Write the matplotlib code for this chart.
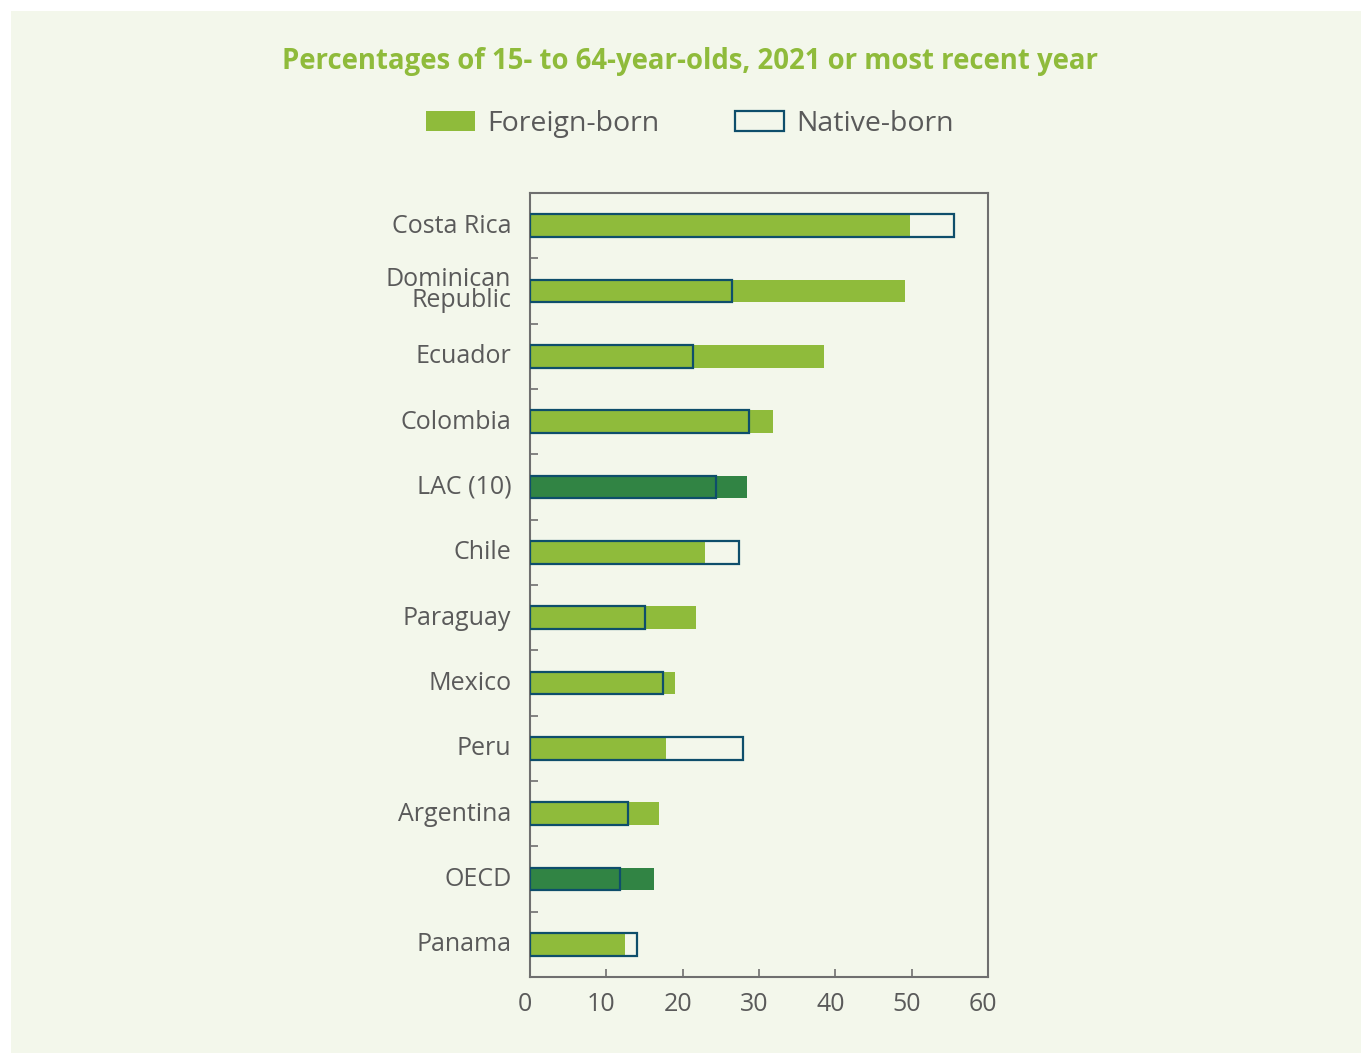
import matplotlib
matplotlib.use("Agg")
import matplotlib.pyplot as plt
import matplotlib.transforms as mtransforms
from matplotlib.patches import Rectangle, Patch

plt.rcParams['font.family'] = ['Open Sans', 'DejaVu Sans']

countries = ["Costa Rica", "Dominican\nRepublic", "Ecuador", "Colombia", "LAC (10)",
             "Chile", "Paraguay", "Mexico", "Peru", "Argentina", "OECD", "Panama"]
foreign_born = [49.8, 49.1, 38.5, 31.8, 28.4, 22.9, 21.7, 19.0, 17.8, 16.9, 16.2, 12.5]
native_born = [55.6, 26.5, 21.4, 28.7, 24.4, 27.4, 15.1, 17.4, 27.9, 12.8, 11.8, 14.0]
aggregates = ["LAC (10)", "OECD"]
x_ticks = [0, 10, 20, 30, 40, 50, 60]

title = "Percentages of 15- to 64-year-olds, 2021 or most recent year"

BG = "#f3f7eb"
LIGHT_GREEN = "#8fbb3b"
DARK_GREEN = "#318444"
NAVY = "#0e4e6b"
TEXT = "#5a5a5a"
SPINE = "#6f6f6f"

W, H = 1361, 1053
fig = plt.figure(figsize=(W / 100, H / 100), dpi=100, facecolor="white")
fig.patches.append(Rectangle((11 / W, 0), 1, 1 - 11 / H, transform=fig.transFigure,
                             facecolor=BG, edgecolor="none", zorder=-10))

ax = fig.add_axes([530 / W, 1 - 977 / H, (988 - 530) / W, (977 - 193) / H])
ax.set_facecolor(BG)

y = list(range(len(countries)))
bar_h = 0.35
fcolors = [DARK_GREEN if c in aggregates else LIGHT_GREEN for c in countries]
ax.barh(y, foreign_born, height=bar_h, color=fcolors, edgecolor="none", zorder=2)
ax.barh(y, native_born, height=bar_h, facecolor="none", edgecolor=NAVY, linewidth=1.6, zorder=3)

ax.set_xlim(0, 60)
ax.set_ylim(len(countries) - 0.5, -0.5)
ax.set_xticks(x_ticks)
ax.set_xticklabels([str(t) for t in x_ticks])

ax.set_yticks([i + 0.5 for i in range(len(countries) - 1)], minor=False)
ax.set_yticklabels([])
ax.set_yticks(y, minor=True)
ax.set_yticklabels(countries, minor=True, fontsize=18, color=TEXT, ha="right",
                   linespacing=0.8)
ax.tick_params(axis="y", which="minor", length=0, pad=13.5)
ax.tick_params(axis="y", which="major", direction="in", length=6, color=SPINE, width=1.2)
ax.tick_params(axis="x", direction="in", length=6, color=SPINE, width=1.2,
               labelsize=18, labelcolor=TEXT, pad=11)

# nudge the x tick labels slightly left and the category labels slightly up
xshift = mtransforms.ScaledTranslation(-5 / 100, 0, fig.dpi_scale_trans)
for lbl in ax.get_xticklabels():
    lbl.set_transform(lbl.get_transform() + xshift)
yshift = mtransforms.ScaledTranslation(0, 2.5 / 100, fig.dpi_scale_trans)
for lbl in ax.get_yticklabels(minor=True):
    lbl.set_transform(lbl.get_transform() + yshift)

for s in ax.spines.values():
    s.set_color(SPINE)
    s.set_linewidth(1.5)

fig.text(690 / W, 1 - 61 / H, title, ha="center", va="center", fontsize=19.8,
         fontweight="bold", color=LIGHT_GREEN)

handles = [Patch(facecolor=LIGHT_GREEN, edgecolor="none", label="Foreign-born"),
           Patch(facecolor=BG, edgecolor=NAVY, linewidth=1.6, label="Native-born")]
fig.legend(handles=handles, loc="center", bbox_to_anchor=(690 / W, 1 - 124 / H), ncol=2,
           frameon=False, fontsize=20.5, labelcolor=TEXT, handlelength=1.72,
           handleheight=0.67, handletextpad=0.42, columnspacing=2.67)

fig.savefig("out.png", dpi=100, facecolor="white")
